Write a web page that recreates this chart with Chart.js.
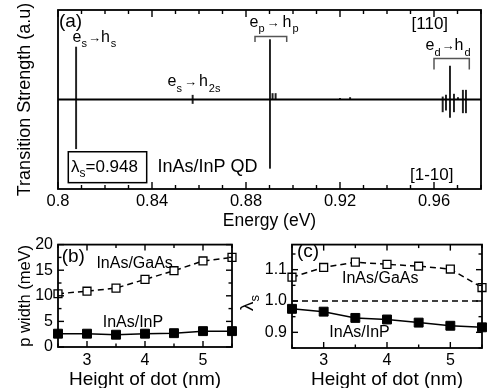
<!DOCTYPE html>
<html><head><meta charset="utf-8">
<script src="https://cdn.jsdelivr.net/npm/chart.js@4"></script>
<style>
html,body{margin:0;padding:0;background:#fff;overflow:hidden;width:502px;height:388px}
.w{position:absolute}
</style></head><body>
<div class="w" style="left:0;top:0;width:502px;height:232px"><canvas id="ca"></canvas></div>
<div class="w" style="left:0;top:230px;width:250px;height:158px"><canvas id="cb"></canvas></div>
<div class="w" style="left:234px;top:230px;width:268px;height:158px"><canvas id="cc"></canvas></div>
<script>
// ---------- data ----------
const transitionEnergy = [0.8077, 0.8573, 0.8902, 0.8913, 0.8926, 0.9200, 0.9243, 0.9637, 0.9651, 0.9668, 0.9685, 0.9702, 0.9723, 0.9736];
const strength110      = [0.586, 0.048, 0.669, 0.067, 0.067, 0.012, 0.022, 0.029, 0.050, 0.374, 0.060, 0.022, 0.104, 0.104];
const strength1m10     = [-0.550, -0.045, -0.769, 0, 0, 0, 0, -0.138, -0.120, -0.200, -0.138, 0, -0.149, -0.149];
const energyRange = [0.8, 0.98];
const energyTickLabels = [0.8, 0.84, 0.88, 0.92, 0.96];

const dotHeight  = [2.5, 3, 3.5, 4, 4.5, 5, 5.5];
const pWidthGaAs = [10.4, 10.9, 11.5, 13.2, 14.9, 16.8, 17.5];
const pWidthInP  = [2.6, 2.6, 2.4, 2.6, 2.7, 3.1, 3.1];
const lambdaGaAs = [1.076, 1.107, 1.124, 1.117, 1.111, 1.102, 1.043];
const lambdaInP  = [0.975, 0.966, 0.946, 0.941, 0.931, 0.921, 0.916];
const heightTickLabels = [3, 4, 5];
const pWidthTickLabels = [0, 5, 10, 15, 20];
const lambdaTickLabels = [0.9, 1.0, 1.1];
const heightRange = [2.5, 5.5];
const lambdaRef = 1.0;

// ---------- helpers ----------
const FF = "'Liberation Sans', Arial, Helvetica, sans-serif";
Chart.defaults.font.family = FF;
Chart.defaults.color = '#000';
const near = (arr, v) => arr.some(t => Math.abs(t - v) < 1e-6);

// frame + inward tick marks on all four sides, positioned through the chart's scales
function makeFrame(o) {
  return {
    id: 'frameTicks',
    afterDraw(chart) {
      const ctx = chart.ctx, ca = chart.chartArea;
      const left = ca.left, right = ca.right, top = ca.top, bottom = ca.bottom;
      const xs = chart.scales.x, ys = chart.scales.y;
      ctx.save();
      ctx.setLineDash([]);
      ctx.strokeStyle = '#000';
      ctx.lineWidth = 1.4;
      const ln = (a, b, c, d) => { ctx.beginPath(); ctx.moveTo(a, b); ctx.lineTo(c, d); ctx.stroke(); };
      if (o.xStep) {
        for (let k = 0; xs.min + k * o.xStep <= xs.max + 1e-9; k++) {
          const v = xs.min + k * o.xStep;
          const p = xs.getPixelForValue(v), L = near(o.xMajor, v) ? o.major : o.minor;
          ln(p, bottom, p, bottom - L); ln(p, top, p, top + L);
        }
      }
      if (o.yStep) {
        const start = Math.ceil(ys.min / o.yStep - 1e-9) * o.yStep;
        for (let k = 0; start + k * o.yStep <= ys.max + 1e-9; k++) {
          const v = start + k * o.yStep;
          const p = ys.getPixelForValue(v), L = near(o.yMajor, v) ? o.major : o.minor;
          ln(left, p, left + L, p); ln(right, p, right - L, p);
        }
      }
      ctx.lineWidth = 1.8;
      ctx.strokeRect(left, top, right - left, bottom - top);
      ctx.restore();
    }
  };
}

function rich(ctx, x, y, parts, size, subSize) {
  let cx = x;
  parts.forEach(([t, k, gap]) => {
    cx += (gap || 0);
    if (k === 1) { ctx.font = subSize + 'px ' + FF; ctx.fillText(t, cx, y + size * 0.33); }
    else if (k === 2) { ctx.font = Math.round(size * 0.8) + 'px ' + FF; ctx.fillText(t, cx, y - size * 0.02); }
    else { ctx.font = size + 'px ' + FF; ctx.fillText(t, cx, y); }
    cx += ctx.measureText(t).width;
  });
  return cx - x;
}

const annotA = {
  id: 'annotA',
  afterDraw(chart) {
    const {ctx} = chart, xs = chart.scales.x, ys = chart.scales.y;
    const X = v => xs.getPixelForValue(v), Y = v => ys.getPixelForValue(v);
    ctx.save();
    ctx.fillStyle = '#000';
    ctx.textBaseline = 'alphabetic';
    ctx.textAlign = 'left';
    ctx.font = '19px ' + FF; ctx.fillText('(a)', X(0.8004), Y(0.806));
    rich(ctx, X(0.80617), Y(0.6418), [['e',0],['s',1],['→',2,1],['h',0],['s',1,1]], 16, 11);
    rich(ctx, X(0.8466), Y(0.1482), [['e',0],['s',1],['→',2,2],['h',0,2],['2s',1,1]], 16, 11);
    rich(ctx, X(0.88149), Y(0.8089), [['e',0],['p',1],['→',2,2],['h',0,3],['p',1,1]], 16, 11);
    rich(ctx, X(0.95638), Y(0.5493), [['e',0],['d',1],['→',2,1],['h',0],['d',1,1]], 16, 11);
    ctx.font = '17px ' + FF;
    ctx.fillText('[110]', X(0.95043), Y(0.7833));
    ctx.fillText('[1-10]', X(0.94979), Y(-0.9047));
    ctx.font = '18px ' + FF;
    ctx.fillText('InAs/InP QD', X(0.84234), Y(-0.8067));
    rich(ctx, X(0.80553), Y(-0.8067), [['λ',0],['s',1],['=0.948',0]], 17, 12);
    ctx.strokeStyle = '#000'; ctx.lineWidth = 1.5;
    ctx.strokeRect(X(0.80438), Y(-0.5838), X(0.83774) - X(0.80438), Y(-0.9292) - Y(-0.5838));
    ctx.strokeStyle = '#555'; ctx.lineWidth = 1.5;
    const br = (x1, x2, yt, yb) => { ctx.beginPath(); ctx.moveTo(X(x1), Y(yb)); ctx.lineTo(X(x1), Y(yt)); ctx.lineTo(X(x2), Y(yt)); ctx.lineTo(X(x2), Y(yb)); ctx.stroke(); };
    br(0.88383, 0.89732, 0.7053, 0.6418);
    br(0.96, 0.97502, 0.4568, 0.3343);
    ctx.restore();
  }
};

new Chart(document.getElementById('ca'), {
  type: 'bar',
  data: {
    datasets: [
      {type: 'line', data: energyRange.map(e => ({x: e, y: 0})), borderColor: '#000', borderWidth: 1.8, pointRadius: 0},
      {data: transitionEnergy.map((e, i) => ({x: e, y: strength110[i]})), backgroundColor: '#222', barThickness: 1.3, grouped: false},
      {data: transitionEnergy.map((e, i) => ({x: e, y: strength1m10[i]})), backgroundColor: '#222', barThickness: 1.3, grouped: false}
    ]
  },
  options: {
    responsive: true, maintainAspectRatio: false, animation: false, events: [],
    layout: {padding: {top: 10, right: 21, left: 0, bottom: 0}},
    plugins: {legend: {display: false}, tooltip: {enabled: false}},
    scales: {
      x: {type: 'linear', min: energyRange[0], max: energyRange[1], offset: false,
        grid: {display: false, drawTicks: false}, border: {display: false},
        ticks: {stepSize: 0.01, maxTicksLimit: 100, autoSkip: false, maxRotation: 0, padding: 3, includeBounds: false,
          font: {size: 16.5}, color: '#000',
          callback: v => near(energyTickLabels, v) ? String(Number(v.toFixed(2))) : ''},
        title: {display: true, text: 'Energy (eV)', font: {size: 17.5, lineHeight: 1}, padding: {top: 0, bottom: 2}, color: '#000'},
        afterFit(s) { s.height = 43; }},
      y: {min: -1, max: 1, grid: {display: false, drawTicks: false}, border: {display: false},
        ticks: {display: false},
        title: {display: true, text: 'Transition Strength (a.u)', font: {size: 18, lineHeight: 1}, padding: {top: 16, bottom: 0}, color: '#000'},
        afterFit(s) { s.width = 58; }}
    }
  },
  plugins: [makeFrame({xStep: 0.01, xMajor: energyTickLabels, major: 7, minor: 4}), annotA]
});

const annotB = {
  id: 'annotB',
  afterDraw(chart) {
    const {ctx} = chart, xs = chart.scales.x, ys = chart.scales.y;
    const X = v => xs.getPixelForValue(v), Y = v => ys.getPixelForValue(v);
    ctx.save(); ctx.fillStyle = '#000'; ctx.textAlign = 'left'; ctx.textBaseline = 'alphabetic';
    ctx.font = '19px ' + FF; ctx.fillText('(b)', X(2.564), Y(16.64));
    ctx.font = '16px ' + FF;
    ctx.fillText('InAs/GaAs', X(3.162), Y(15.34));
    ctx.fillText('InAs/InP', X(3.271), Y(3.84));
    ctx.restore();
  }
};
const squareOpen = {borderColor: '#000', borderWidth: 1.5, borderDash: [6, 4], pointStyle: 'rect', pointRadius: 5.6, pointBackgroundColor: '#fff', pointBorderColor: '#000', pointBorderWidth: 1.3, clip: false};
const squareFull = {borderColor: '#000', borderWidth: 1.5, pointStyle: 'rect', pointRadius: 6.3, pointBackgroundColor: '#000', pointBorderColor: '#000', pointBorderWidth: 1, clip: false};
const heightX = {type: 'linear', min: heightRange[0], max: heightRange[1], grid: {display: false, drawTicks: false}, border: {display: false},
  ticks: {stepSize: 0.5, autoSkip: false, maxRotation: 0, padding: 4, font: {size: 16}, color: '#000',
    callback: v => near(heightTickLabels, v) ? String(v) : ''},
  title: {display: true, text: 'Height of dot (nm)', font: {size: 19, lineHeight: 1}, padding: {top: 0, bottom: -1}, color: '#000'}};

new Chart(document.getElementById('cb'), {
  type: 'line',
  data: {datasets: [
    Object.assign({data: dotHeight.map((h, i) => ({x: h, y: pWidthGaAs[i]}))}, squareOpen),
    Object.assign({data: dotHeight.map((h, i) => ({x: h, y: pWidthInP[i]}))}, squareFull)
  ]},
  options: {
    responsive: true, maintainAspectRatio: false, animation: false, events: [],
    layout: {padding: {top: 10, right: 18, left: 0, bottom: 0}},
    plugins: {legend: {display: false}, tooltip: {enabled: false}},
    scales: {
      x: Object.assign({}, heightX, {afterFit(s) { s.height = 41; }}),
      y: {min: 0, max: 20, grid: {display: false, drawTicks: false}, border: {display: false},
        ticks: {stepSize: 2.5, autoSkip: false, padding: 5, font: {size: 16}, color: '#000',
          callback: v => near(pWidthTickLabels, v) ? String(v) : ''},
        title: {display: true, text: 'p width (meV)', font: {size: 16.5, lineHeight: 1}, padding: {top: 17, bottom: 0}, color: '#000'},
        afterFit(s) { s.width = 58; }}
    }
  },
  plugins: [makeFrame({xStep: 0.5, xMajor: heightTickLabels, yStep: 2.5, yMajor: pWidthTickLabels, major: 6, minor: 3.5}), annotB]
});

const annotC = {
  id: 'annotC',
  afterDraw(chart) {
    const {ctx} = chart, xs = chart.scales.x, ys = chart.scales.y;
    const X = v => xs.getPixelForValue(v), Y = v => ys.getPixelForValue(v);
    ctx.save(); ctx.fillStyle = '#000'; ctx.textAlign = 'left'; ctx.textBaseline = 'alphabetic';
    ctx.font = '19px ' + FF; ctx.fillText('(c)', X(2.579), Y(1.140));
    ctx.font = '16px ' + FF;
    ctx.fillText('InAs/GaAs', X(3.289), Y(1.058));
    ctx.fillText('InAs/InP', X(3.089), Y(0.885));
    ctx.save();
    ctx.translate(19, Y(1.0) + 10);
    ctx.rotate(-Math.PI / 2);
    rich(ctx, 0, 0, [['λ',0],['s',1]], 19, 13);
    ctx.restore();
    ctx.restore();
  }
};

new Chart(document.getElementById('cc'), {
  type: 'line',
  data: {datasets: [
    {data: heightRange.map(h => ({x: h, y: lambdaRef})), borderColor: '#000', borderWidth: 1.3, borderDash: [6, 4], pointRadius: 0},
    Object.assign({data: dotHeight.map((h, i) => ({x: h, y: lambdaGaAs[i]}))}, squareOpen),
    Object.assign({data: dotHeight.map((h, i) => ({x: h, y: lambdaInP[i]}))}, squareFull)
  ]},
  options: {
    responsive: true, maintainAspectRatio: false, animation: false, events: [],
    layout: {padding: {top: 9, right: 20, left: 0, bottom: 0}},
    plugins: {legend: {display: false}, tooltip: {enabled: false}},
    scales: {
      x: Object.assign({}, heightX, {ticks: Object.assign({}, heightX.ticks, {padding: 3}), afterFit(s) { s.height = 40; }}),
      y: {min: 0.85, max: 1.18, grid: {display: false, drawTicks: false}, border: {display: false},
        ticks: {stepSize: 0.05, autoSkip: false, includeBounds: false, padding: 5, font: {size: 16}, color: '#000',
          callback: v => near(lambdaTickLabels, v) ? v.toFixed(1) : ''},
        afterFit(s) { s.width = 58; }}
    }
  },
  plugins: [makeFrame({xStep: 0.5, xMajor: heightTickLabels, yStep: 0.05, yMajor: lambdaTickLabels, major: 6, minor: 3.5}), annotC]
});
</script>
</body></html>
